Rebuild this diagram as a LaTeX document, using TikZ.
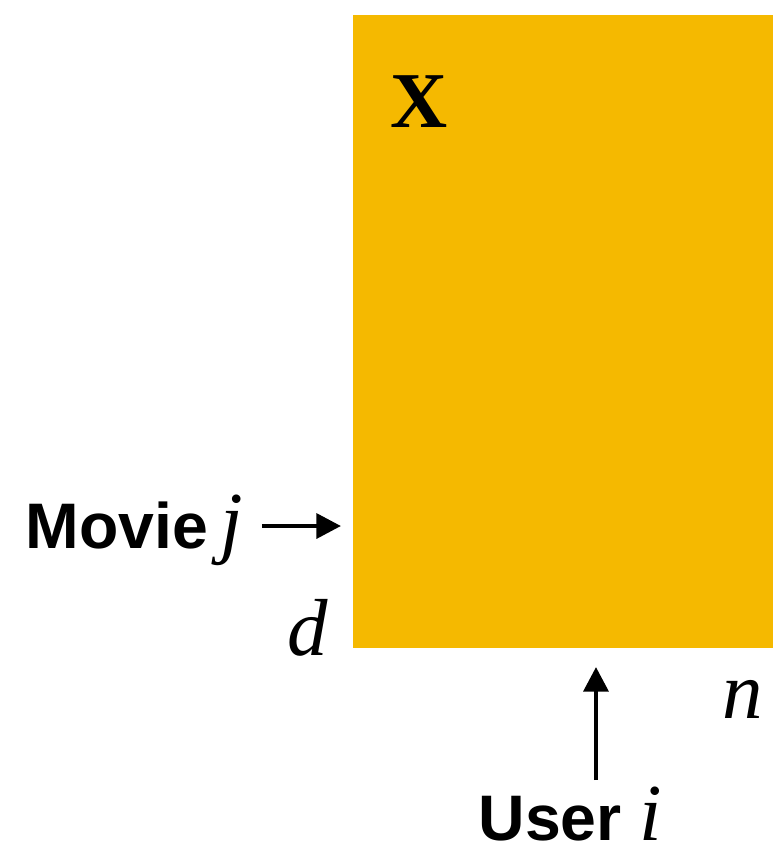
\documentclass[tikz,border=0pt]{standalone}
\usepackage{fontspec}
\setmainfont{Liberation Serif}
\newfontfamily\labsans{Liberation Sans}
\usetikzlibrary{arrows.meta}
\definecolor{matfill}{RGB}{245,185,0}
\tikzset{
  arr/.style={line width=1.3pt,-{Triangle[length=7pt,width=7pt]}},
  lab/.style={inner sep=0pt,anchor=base west,font=\labsans\bfseries\fontsize{18.3}{20}\selectfont},
  mathlab/.style={inner sep=0pt,anchor=base west,font=\itshape\fontsize{23}{26}\selectfont},
}
\newcommand{\mvar}[1]{{\rmfamily\mdseries\itshape\fontsize{23}{26}\selectfont #1}}
\begin{document}
\begin{tikzpicture}[x=0.01cm,y=-0.01cm]
\useasboundingbox (0,0) rectangle (773,847);
\fill[matfill] (353,15) rectangle (773,648);
\node[inner sep=0pt,anchor=base west,font=\bfseries\fontsize{22.5}{26}\selectfont] (X) at (390,127) {X};
\node[lab] (movie) at (25,548) {Movie\hspace{3.5pt}\mvar{j}};
\node[mathlab] (d) at (287,655) {d};
\node[mathlab] (n) at (722,718) {n};
\node[lab] (user) at (478,840) {User\hspace{5pt}\mvar{i}};
\coordinate (ma) at (262,526);
\coordinate (mb) at (341,526);
\coordinate (ua) at (596,780);
\coordinate (ub) at (596,667);
\draw[arr] (ma) -- (mb);
\draw[arr] (ua) -- (ub);
\end{tikzpicture}
\end{document}
